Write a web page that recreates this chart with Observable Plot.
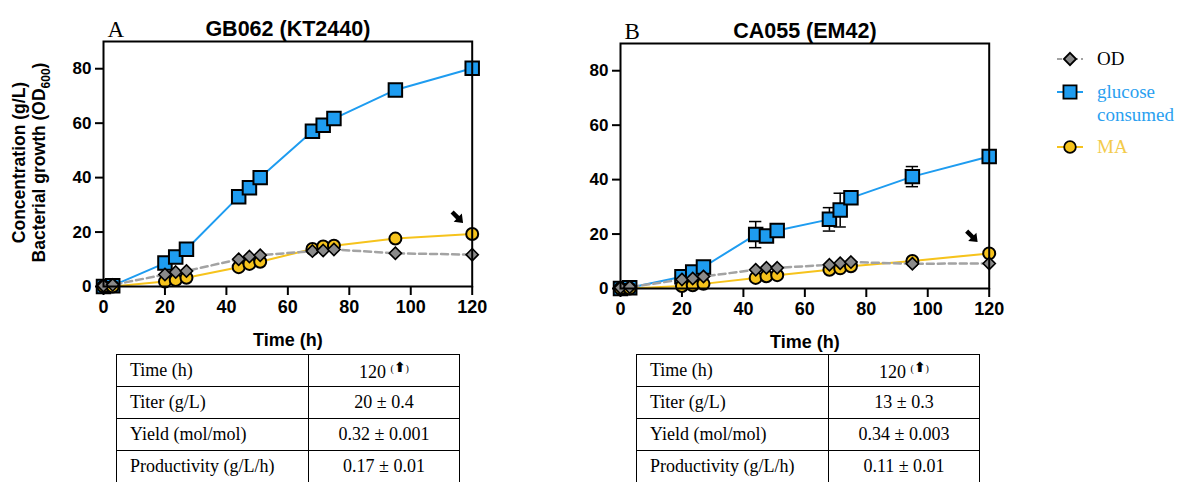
<!DOCTYPE html>
<html>
<head>
<meta charset="utf-8">
<script src="https://cdn.jsdelivr.net/npm/d3@7"></script>
<script src="https://cdn.jsdelivr.net/npm/@observablehq/plot@0.6"></script>
<style>
  html, body { margin: 0; padding: 0; background: #fff; }
  #root { position: relative; width: 1182px; height: 482px; overflow: hidden; background: #fff; }
  .abs { position: absolute; }
  table.stats { position: absolute; border-collapse: collapse; table-layout: fixed;
    font-family: "Liberation Serif", "Times New Roman", serif; font-size: 18px; color: #000; }
  table.stats td { border: 1.5px solid #000; height: 31px; padding: 0; vertical-align: middle; white-space: nowrap; }
  table.stats td.lab { padding-left: 13px; text-align: left; }
  table.stats td.val { text-align: center; }
  .sup { font-size: 10px; vertical-align: 6px; }
  .sup b { font-family: "DejaVu Sans", sans-serif; font-size: 14px; }
</style>
</head>
<body>
<div id="root">
  <div id="plotA" class="abs" style="left:0px;top:0px"></div>
  <div id="plotB" class="abs" style="left:517px;top:1.5px"></div>
  <svg id="overlay" class="abs" style="left:0;top:0" width="1182" height="482"></svg>
</div>
<script>
// ---------------- data ----------------
const times = [0, 3, 20, 23.5, 27, 44, 47.5, 51, 68, 71.5, 75, 95, 120];

const glucoseA = [0, 0.3, 8.6, 10.8, 13.7, 33.0, 36.3, 40.0, 57.0, 59.2, 61.7, 72.2, 80.2];
const odA      = [0.3, 0.6, 4.4, 5.3, 5.7, 10.0, 11.0, 11.5, 13.0, 13.2, 13.6, 12.2, 11.7];
const maA      = [0, 0, 1.8, 2.4, 3.2, 7.1, 8.3, 9.1, 13.8, 14.7, 15.0, 17.6, 19.3];
const glucoseErrA = [0, 0, 0, 0, 0, 0, 0, 0, 0, 0, 0, 0, 0];

const glucoseB = [0, 0.3, 4.3, 6.1, 7.9, 19.8, 19.3, 21.3, 25.4, 28.8, 33.3, 41.1, 48.5];
const odB      = [0.3, 0.5, 3.3, 3.7, 4.4, 6.9, 7.6, 7.6, 8.7, 9.3, 9.7, 9.1, 9.2];
const maB      = [0, 0, 0.9, 1.2, 1.7, 3.9, 4.5, 4.9, 6.9, 7.4, 8.2, 10.1, 12.9];
const glucoseErrB = [0, 0, 0, 0, 0, 4.8, 0, 0, 4.3, 6.2, 0, 3.7, 0];

const titles = ["GB062 (KT2440)", "CA055 (EM42)"];
const panelLetters = ["A", "B"];
const arrowA = [{t: 115.3, v: 25.3}];
const arrowB = [{t: 114.5, v: 19.0}];

const xTicks = [0, 20, 40, 60, 80, 100, 120];
const yTicks = [0, 20, 40, 60, 80];

const seriesNames = ["OD", "glucose consumed", "MA"];
const tableRows = ["Time (h)", "Titer (g/L)", "Yield (mol/mol)", "Productivity (g/L/h)"];
const tableA = ["120", "20 ± 0.4", "0.32 ± 0.001", "0.17 ± 0.01"];
const tableB = ["120", "13 ± 0.3", "0.34 ± 0.003", "0.11 ± 0.01"];

// ---------------- style ----------------
const BLUE = "#1E9CF0";
const GOLD = "#F6C31C";
const GRAY_FILL = "#8a8a8a";
const GRAY_LINE = "#a3a3a3";
const SANS = "Arial, 'Liberation Sans', sans-serif";
const SERIF = "'Liberation Serif', 'Times New Roman', serif";

// fat arrow symbol pointing down-right
const fatArrow = {
  draw(ctx, size) {
    const s = Math.sqrt(size) / 10;
    const pts = [[-8, -2.2], [0, -2.2], [0, -5.8], [7.5, 0], [0, 5.8], [0, 2.2], [-8, 2.2]];
    const c = Math.SQRT1_2;
    pts.forEach(([x, y], i) => {
      const X = (x * c - y * c) * s, Y = (x * c + y * c) * s;
      if (i === 0) ctx.moveTo(X, Y); else ctx.lineTo(X, Y);
    });
    ctx.closePath();
  }
};

function rows(g, od, ma, err) {
  return times.map((t, i) => ({t, g: g[i], od: od[i], ma: ma[i], e: err[i]}));
}

function panel(data, arrow, title, letter) {
  const errs = data.filter(d => d.e > 0);
  return Plot.plot({
    width: 500, height: 330,
    marginLeft: 103, marginRight: 28.3, marginTop: 41, marginBottom: 44,
    x: {domain: [0, 120]},
    y: {domain: [0, 90]},
    style: {fontFamily: SANS, color: "black", background: "transparent", overflow: "visible"},
    marks: [
      Plot.axisY({ticks: yTicks, tickSize: 8, tickPadding: 4, fontSize: 17, fontWeight: "bold", label: null, strokeWidth: 2}),
      Plot.axisX({ticks: xTicks, tickSize: 9, tickPadding: 5, fontSize: 18, fontWeight: "bold", label: null, strokeWidth: 2}),
      // error bars
      Plot.ruleX(errs, {x: "t", y1: d => d.g - d.e, y2: d => d.g + d.e, stroke: "black", strokeWidth: 1.5}),
      Plot.ruleY(errs, {y: d => d.g + d.e, x1: d => d.t - 2, x2: d => d.t + 2, stroke: "black", strokeWidth: 1.5}),
      Plot.ruleY(errs, {y: d => d.g - d.e, x1: d => d.t - 2, x2: d => d.t + 2, stroke: "black", strokeWidth: 1.5}),
      // lines
      Plot.line(data, {x: "t", y: "g", stroke: BLUE, strokeWidth: 2}),
      Plot.line(data, {x: "t", y: "ma", stroke: GOLD, strokeWidth: 2}),
      Plot.line(data, {x: "t", y: "od", stroke: GRAY_LINE, strokeWidth: 2.5, strokeDasharray: "7,4"}),
      // markers
      Plot.dot(data, {x: "t", y: "g", symbol: "square", r: 7.6, fill: BLUE, stroke: "black", strokeWidth: 2}),
      Plot.dot(data, {x: "t", y: "ma", symbol: "circle", r: 6, fill: GOLD, stroke: "black", strokeWidth: 2}),
      Plot.dot(data, {x: "t", y: "od", symbol: "diamond2", r: 5.5, fill: GRAY_FILL, stroke: "black", strokeWidth: 1.6}),
      // annotation arrow
      Plot.dot(arrow, {x: "t", y: "v", symbol: fatArrow, r: 5.64, fill: "black", stroke: "none"}),
      Plot.frame({stroke: "black", strokeWidth: 2}),
      // title and panel letter
      Plot.text([title], {frameAnchor: "top", lineAnchor: "bottom", dy: -6, fontSize: 21.5, fontWeight: "bold", fill: "black"}),
      Plot.text([letter], {frameAnchor: "top-left", textAnchor: "start", lineAnchor: "bottom", dx: 4, dy: -5, fontSize: 23, fontFamily: SERIF, fill: "black"}),
      // x label
      Plot.text(["Time (h)"], {frameAnchor: "bottom", lineAnchor: "middle", dy: 54, fontSize: 18, fontWeight: "bold", fill: "black"})
    ]
  });
}

document.getElementById("plotA").appendChild(panel(rows(glucoseA, odA, maA, glucoseErrA), arrowA, titles[0], panelLetters[0]));
document.getElementById("plotB").appendChild(panel(rows(glucoseB, odB, maB, glucoseErrB), arrowB, titles[1], panelLetters[1]));

// ---------------- overlay: y label + legend ----------------
const svg = d3.select("#overlay");
const yl = svg.append("g").attr("font-family", SANS).attr("font-weight", "bold").attr("font-size", 17.5).attr("fill", "black");
yl.append("text").attr("transform", "translate(25,162.5) rotate(-90)").attr("text-anchor", "middle").text("Concentration (g/L)");
const l2 = yl.append("text").attr("transform", "translate(45,162.5) rotate(-90)").attr("text-anchor", "middle");
l2.append("tspan").text("Bacterial growth (OD");
l2.append("tspan").attr("font-size", 12).attr("dy", 5).text("600");
l2.append("tspan").attr("dy", -5).text(")");

const legend = svg.append("g");
const legItems = [
  {name: seriesNames[0], y: 59, line: GRAY_LINE, dash: "5,3", sym: d3.symbolDiamond2, size: Math.PI * 5.5 * 5.5, fill: GRAY_FILL, text: "black", lines: ["OD"]},
  {name: seriesNames[1], y: 92, line: BLUE, dash: null, sym: d3.symbolSquare, size: Math.PI * 7.4 * 7.4, fill: BLUE, text: "#2A9FF0", lines: ["glucose", "consumed"]},
  {name: seriesNames[2], y: 147, line: GOLD, dash: null, sym: d3.symbolCircle, size: Math.PI * 5.8 * 5.8, fill: GOLD, text: "#F3CB4A", lines: ["MA"]}
];
for (const it of legItems) {
  const g = legend.append("g");
  g.append("line").attr("x1", 1057).attr("x2", 1083).attr("y1", it.y).attr("y2", it.y)
    .attr("stroke", it.line).attr("stroke-width", 2).attr("stroke-dasharray", it.dash);
  g.append("path").attr("transform", `translate(1070,${it.y})`).attr("d", d3.symbol(it.sym, it.size)())
    .attr("fill", it.fill).attr("stroke", "black").attr("stroke-width", 1.8);
  it.lines.forEach((s, i) => {
    g.append("text").attr("x", 1097).attr("y", it.y + 6 + i * 23).attr("font-family", SERIF)
      .attr("font-size", 19).attr("fill", it.text).text(s);
  });
}

// ---------------- tables ----------------
function makeTable(vals, left) {
  const t = document.createElement("table");
  t.className = "stats";
  t.style.left = left + "px";
  t.style.top = "354px";
  const cg = document.createElement("colgroup");
  cg.innerHTML = '<col style="width:192px"><col style="width:151px">';
  t.appendChild(cg);
  tableRows.forEach((lab, i) => {
    const tr = document.createElement("tr");
    const a = document.createElement("td"); a.className = "lab"; a.textContent = lab;
    const b = document.createElement("td"); b.className = "val";
    b.textContent = vals[i] + " ";
    if (i === 0) {
      const s = document.createElement("span"); s.className = "sup";
      s.innerHTML = "(<b>⬆</b>)";
      b.appendChild(s);
    }
    tr.appendChild(a); tr.appendChild(b);
    t.appendChild(tr);
  });
  document.getElementById("root").appendChild(t);
}
makeTable(tableA, 116);
makeTable(tableB, 636);
</script>
</body>
</html>
